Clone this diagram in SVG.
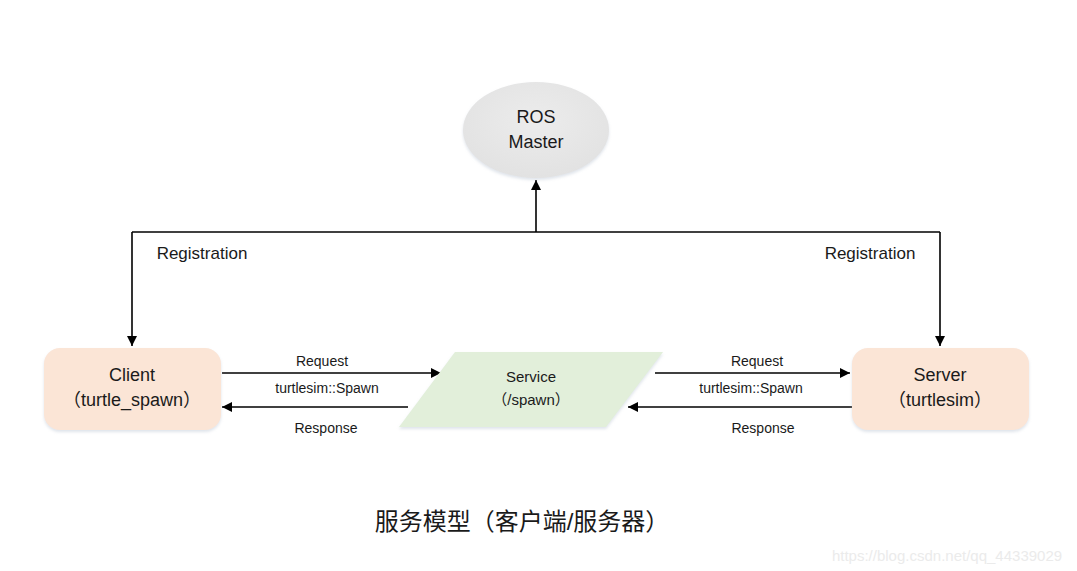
<svg xmlns="http://www.w3.org/2000/svg" width="1077" height="571" viewBox="0 0 1077 571">
<style>
text{font-family:"Liberation Sans","Noto Sans CJK SC",sans-serif;fill:#1a1a1a;text-anchor:middle}
.n{font-size:17px}
.s{font-size:14px}
.c{stroke:#000;stroke-width:1.6;fill:none}
.box{fill:#fbe5d6}
</style>
<defs>
<marker id="ah" viewBox="0 0 10 10" refX="10" refY="5" markerWidth="10" markerHeight="10" markerUnits="userSpaceOnUse" orient="auto">
<path d="M0,0 L10,5 L0,10 z" fill="#000"/>
</marker>
<filter id="sh" x="-20%" y="-20%" width="140%" height="150%">
<feDropShadow dx="0" dy="2" stdDeviation="1.5" flood-color="#b0bccc" flood-opacity="0.4"/>
</filter>
<radialGradient id="eg" cx="50%" cy="40%" r="60%">
<stop offset="0" stop-color="#ececec"/>
<stop offset="1" stop-color="#e2e2e2"/>
</radialGradient>
</defs>
<rect width="1077" height="571" fill="#fff"/>
<g id="connectors">
<path class="c" d="M536,232 V180" marker-end="url(#ah)"/>
<path class="c" d="M132,232 H940"/>
<path class="c" d="M132,232 V346" marker-end="url(#ah)"/>
<path class="c" d="M940,232 V346" marker-end="url(#ah)"/>
<path class="c" d="M222,373 H441" marker-end="url(#ah)"/>
<path class="c" d="M408,407 H222" marker-end="url(#ah)"/>
<path class="c" d="M655,373 H850" marker-end="url(#ah)"/>
<path class="c" d="M852,407 H628" marker-end="url(#ah)"/>
<text class="n" x="202" y="259">Registration</text>
<text class="n" x="870" y="259">Registration</text>
<text class="s" x="322" y="366">Request</text>
<text class="s" x="327" y="393">turtlesim::Spawn</text>
<text class="s" x="326" y="433">Response</text>
<text class="s" x="757" y="366">Request</text>
<text class="s" x="751" y="393">turtlesim::Spawn</text>
<text class="s" x="763" y="433">Response</text>
</g>
<g id="master">
<ellipse cx="536" cy="130" rx="73" ry="48" fill="url(#eg)" filter="url(#sh)"/>
<text class="n" x="536" y="123" style="font-size:18px">ROS</text>
<text class="n" x="536" y="148" style="font-size:18px">Master</text>
</g>
<g id="client">
<rect class="box" x="44" y="348" width="177" height="82" rx="16" filter="url(#sh)"/>
<text class="n" x="132" y="381" style="font-size:18px">Client</text>
<text class="n" x="132" y="406" style="font-size:18px">（turtle_spawn）</text>
</g>
<g id="service">
<polygon points="455,352 663,352 606,427 399,427" fill="#e2efda" filter="url(#sh)"/>
<text class="s" x="531" y="382" style="font-size:15px">Service</text>
<text class="s" x="531" y="405" style="font-size:15px">（/spawn）</text>
</g>
<g id="server">
<rect class="box" x="852" y="348" width="177" height="82" rx="16" filter="url(#sh)"/>
<text class="n" x="940" y="381" style="font-size:18px">Server</text>
<text class="n" x="940" y="406" style="font-size:18px">（turtlesim）</text>
</g>
<text x="522" y="530" style="font-size:24px">服务模型（客户端/服务器）</text>
<text x="947" y="561" style="font-size:15px;fill:#ebebeb">https://blog.csdn.net/qq_44339029</text>
</svg>
